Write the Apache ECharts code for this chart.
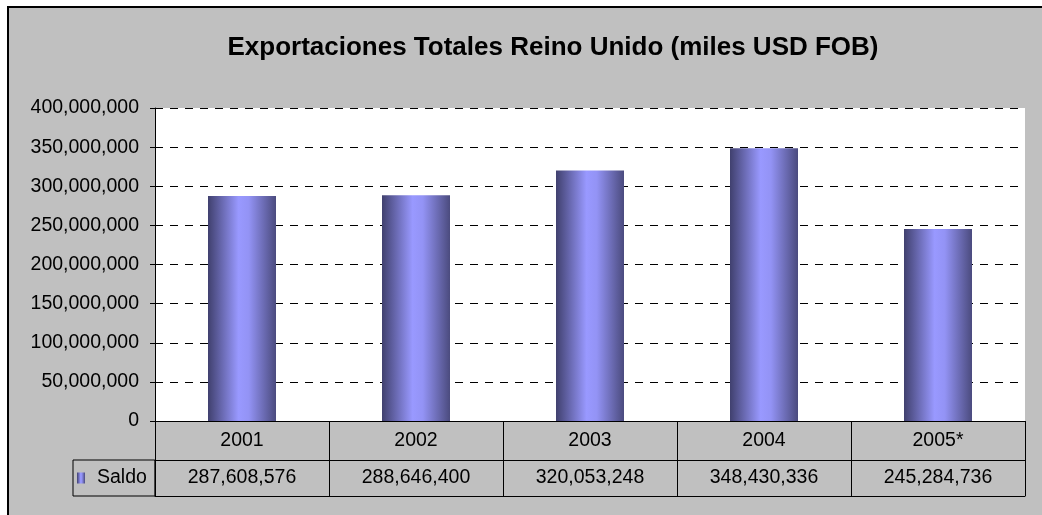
<!DOCTYPE html>
<html>
<head>
<meta charset="utf-8">
<script src="https://cdn.jsdelivr.net/npm/echarts@6/dist/echarts.min.js"></script>
<style>
  html, body { margin: 0; padding: 0; background: #fff; }
  #frame {
    position: absolute; left: 7px; top: 6px; right: 0; bottom: 0;
    background: #c0c0c0;
    border-left: 2px solid #000; border-top: 2px solid #000;
  }
  #chart { position: absolute; left: 0; top: 0; width: 1042px; height: 515px; }
</style>
</head>
<body>
<div id="frame"></div>
<div id="chart"></div>
<script>
var years = ['2001', '2002', '2003', '2004', '2005*']
var saldo = [287608576, 288646400, 320053248, 348430336, 245284736]
var seriesName = 'Saldo'

var font = 'Liberation Sans, Arial, sans-serif'
var fmt = function(v) {
  return String(v).replace(/\B(?=(\d{3})+(?!\d))/g, ',')
}
// barra con sombreado tipo cilindro
var barColor = new echarts.graphic.LinearGradient(0, 0, 1, 0, [
  { offset: 0, color: '#40406e' },
  { offset: 0.45, color: '#9999ff' },
  { offset: 0.6, color: '#9393f5' },
  { offset: 1, color: '#4b4b7e' }
])

var chart = echarts.init(document.getElementById('chart'))
chart.setOption({
  animation: false,
  backgroundColor: 'transparent',
  title: {
    text: 'Exportaciones Totales Reino Unido (miles USD FOB)',
    left: 553,
    top: 35,
    textAlign: 'center',
    padding: 0,
    textStyle: { fontFamily: font, fontSize: 26, fontWeight: 'bold', color: '#000' }
  },
  legend: {
    data: [seriesName],
    left: 73,
    top: 460,
    orient: 'horizontal',
    padding: [8, 8, 8, 4],
    borderColor: '#000',
    borderWidth: 1,
    itemWidth: 8,
    itemHeight: 11,
    icon: 'rect',
    selectedMode: false,
    textStyle: { fontFamily: font, fontSize: 19.5, color: '#000', padding: [0, 0, 0, 7] }
  },
  grid: {
    left: 155,
    right: 17,
    top: 108,
    bottom: 94,
    show: true,
    backgroundColor: '#fff',
    borderWidth: 0,
    containLabel: false
  },
  yAxis: {
    type: 'value',
    min: 0,
    max: 400000000,
    interval: 50000000,
    axisLine: { show: true, lineStyle: { color: '#000', width: 1 } },
    axisTick: { show: true, length: 5, lineStyle: { color: '#000' } },
    axisLabel: {
      margin: 16,
      color: '#000',
      fontFamily: font,
      fontSize: 19.5,
      formatter: fmt
    },
    splitLine: { show: true, lineStyle: { color: '#000', type: [8, 7], width: 1 } }
  },
  xAxis: [
    {
      type: 'category',
      data: years,
      position: 'bottom',
      axisLine: { show: true, lineStyle: { color: '#000', width: 1 } },
      axisTick: { show: true, length: 39, lineStyle: { color: '#000' } },
      axisLabel: { margin: 10, color: '#000', fontFamily: font, fontSize: 19.5 },
      splitLine: { show: false }
    },
    {
      type: 'category',
      data: saldo.map(fmt),
      position: 'bottom',
      offset: 39,
      axisLine: { show: true, lineStyle: { color: '#000', width: 1 } },
      axisTick: { show: true, length: 36, lineStyle: { color: '#000' } },
      axisLabel: { margin: 8, color: '#000', fontFamily: font, fontSize: 19.5 },
      splitLine: { show: false }
    },
    {
      type: 'category',
      data: years,
      position: 'bottom',
      offset: 75,
      axisLine: { show: true, lineStyle: { color: '#000', width: 1 } },
      axisTick: { show: false },
      axisLabel: { show: false },
      splitLine: { show: false }
    }
  ],
  series: [
    {
      name: seriesName,
      type: 'bar',
      xAxisIndex: 0,
      barWidth: 68,
      itemStyle: { color: barColor },
      data: saldo
    }
  ]
})
</script>
</body>
</html>
